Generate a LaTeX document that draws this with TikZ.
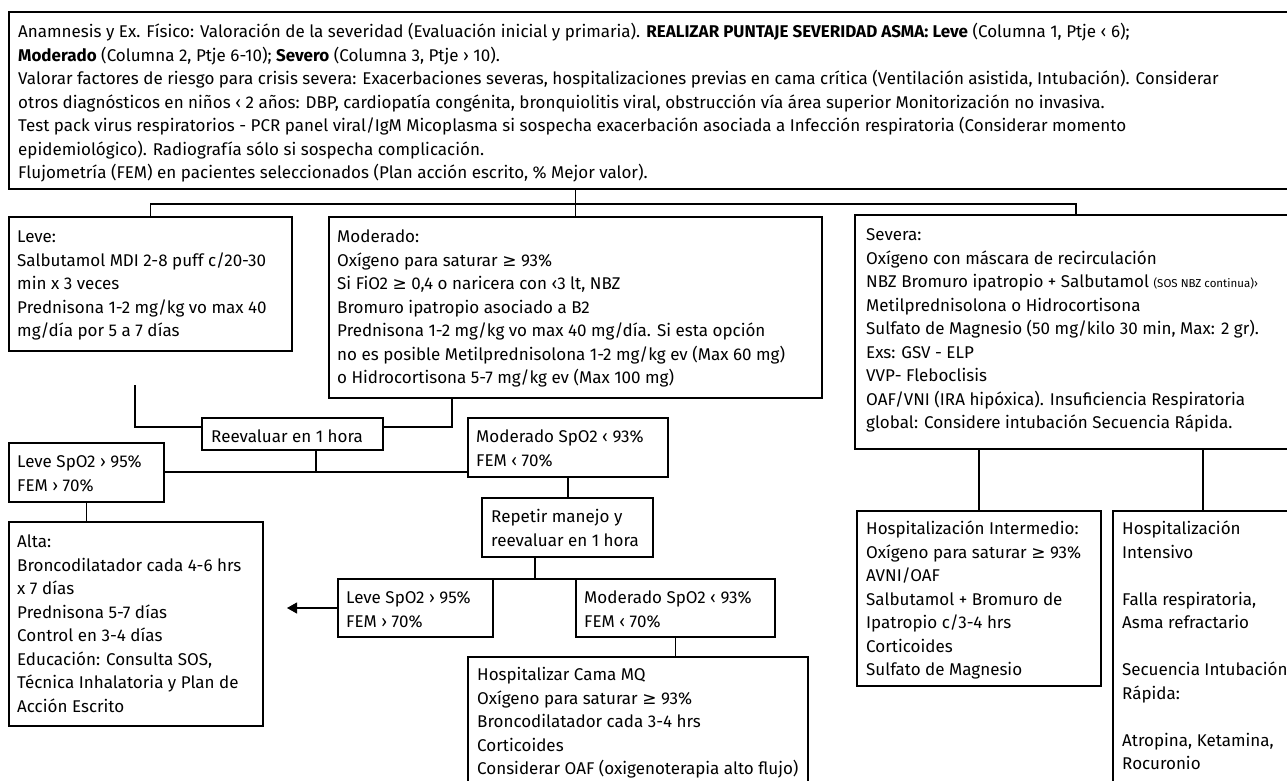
\documentclass[tikz,border=0pt]{standalone}
\usepackage{fontspec}
\setmainfont{Fira Sans}
\newfontfamily\symfam{DejaVu Sans}
\usetikzlibrary{arrows.meta}
\newcommand{\gesign}{{\symfam ≥}}
\begin{document}
\begin{tikzpicture}[x=1pt,y=-1pt,
  bx/.style={draw, line width=1.1pt, rectangle, anchor=north west, inner sep=0pt, outer sep=0pt},
  tx/.style={anchor=north west, inner sep=0pt, align=left, font=\fontsize{17}{23.5}\selectfont},
  ln/.style={line width=1.1pt},
  tip/.style={-{Triangle[length=10pt,width=11pt]}}
]
\useasboundingbox (0,0) rectangle (1287,780);
\clip (0,0) rectangle (1287,780);

% boxes
\node[bx, minimum width=1300pt, minimum height=177pt] (top) at (9,12) {};
\node[bx, minimum width=283pt, minimum height=134pt] (leve) at (9,217) {};
\node[bx, minimum width=493pt, minimum height=181pt] (mod) at (329,217) {};
\node[bx, minimum width=450pt, minimum height=234pt] (sev) at (855,215) {};
\node[bx, minimum width=181pt, minimum height=32pt] (reev) at (202,418) {};
\node[bx, minimum width=155pt, minimum height=59pt] (leveA) at (9,443) {};
\node[bx, minimum width=200pt, minimum height=59pt] (modA) at (468,418) {};
\node[bx, minimum width=171pt, minimum height=59pt] (rep) at (482,498) {};
\node[bx, minimum width=254pt, minimum height=204pt] (alta) at (9,522) {};
\node[bx, minimum width=155pt, minimum height=58pt] (leveB) at (338,579) {};
\node[bx, minimum width=199pt, minimum height=58pt] (modB) at (576,579) {};
\node[bx, minimum width=340pt, minimum height=160pt] (hmq) at (468,657) {};
\node[bx, minimum width=244pt, minimum height=175pt] (hint) at (857,511) {};
\node[bx, minimum width=200pt, minimum height=300pt] (hicu) at (1113,511) {};

% texts
\node[tx] (topT) at ([shift={(9,9)}]top.north west) {\strut Anamnesis y Ex. Físico: Valoración de la severidad (Evaluación inicial y primaria). \textbf{REALIZAR PUNTAJE SEVERIDAD ASMA: Leve} (Columna 1, Ptje ‹ 6);\\
\textbf{Moderado} (Columna 2, Ptje 6-10); \textbf{Severo} (Columna 3, Ptje › 10).\\
Valorar factores de riesgo para crisis severa: Exacerbaciones severas, hospitalizaciones previas en cama crítica (Ventilación asistida, Intubación). Considerar\\
otros diagnósticos en niños ‹ 2 años: DBP, cardiopatía congénita, bronquiolitis viral, obstrucción vía área superior Monitorización no invasiva.\\
Test pack virus respiratorios - PCR panel viral/IgM Micoplasma si sospecha exacerbación asociada a Infección respiratoria (Considerar momento\\
epidemiológico). Radiografía sólo si sospecha complicación.\\
Flujometría (FEM) en pacientes seleccionados (Plan acción escrito, \% Mejor valor).};

\node[tx] (leveT) at ([shift={(8,9)}]leve.north west) {\strut Leve:\\
Salbutamol MDI 2-8 puff c/20-30\\
min x 3 veces\\
Prednisona 1-2 mg/kg vo max 40\\
mg/día por 5 a 7 días};

\node[tx] (modT) at ([shift={(8,9)}]mod.north west) {\strut Moderado:\\
Oxígeno para saturar \gesign{} 93\%\\
Si FiO2 \gesign{} 0,4 o naricera con ‹3 lt, NBZ\\
Bromuro ipatropio asociado a B2\\
Prednisona 1-2 mg/kg vo max 40 mg/día. Si esta opción\\
no es posible Metilprednisolona 1-2 mg/kg ev (Max 60 mg)\\
o Hidrocortisona 5-7 mg/kg ev (Max 100 mg)};

\node[tx] (sevT) at ([shift={(11,9)}]sev.north west) {\strut Severa:\\
Oxígeno con máscara de recirculación\\
NBZ Bromuro ipatropio + Salbutamol {\fontsize{11.5}{23.5}\selectfont (SOS NBZ continua)›}\\
Metilprednisolona o Hidrocortisona\\
Sulfato de Magnesio (50 mg/kilo 30 min, Max: 2 gr).\\
Exs: GSV - ELP\\
VVP- Fleboclisis\\
OAF/VNI (IRA hipóxica). Insuficiencia Respiratoria\\
global: Considere intubación Secuencia Rápida.};

\node[tx] (reevT) at ([shift={(9,8)}]reev.north west) {\strut Reevaluar en 1 hora};
\node[tx] (leveAT) at ([shift={(8,8)}]leveA.north west) {\strut Leve SpO2 › 95\%\\FEM › 70\%};
\node[tx] (modAT) at ([shift={(8,8)}]modA.north west) {\strut Moderado SpO2 ‹ 93\%\\FEM ‹ 70\%};
\node[tx] (repT) at ([shift={(9,8)}]rep.north west) {\strut Repetir manejo y\\reevaluar en 1 hora};
\node[tx] (altaT) at ([shift={(8,9)}]alta.north west) {\strut Alta:\\
Broncodilatador cada 4-6 hrs\\
x 7 días\\
Prednisona 5-7 días\\
Control en 3-4 días\\
Educación: Consulta SOS,\\
Técnica Inhalatoria y Plan de\\
Acción Escrito};
\node[tx] (leveBT) at ([shift={(8,8)}]leveB.north west) {\strut Leve SpO2 › 95\%\\FEM › 70\%};
\node[tx] (modBT) at ([shift={(8,8)}]modB.north west) {\strut Moderado SpO2 ‹ 93\%\\FEM ‹ 70\%};
\node[tx] (hmqT) at ([shift={(9,7)}]hmq.north west) {\strut Hospitalizar Cama MQ\\
Oxígeno para saturar \gesign{} 93\%\\
Broncodilatador cada 3-4 hrs\\
Corticoides\\
Considerar OAF (oxigenoterapia alto flujo)};
\node[tx] (hintT) at ([shift={(9,7)}]hint.north west) {\strut Hospitalización Intermedio:\\
Oxígeno para saturar \gesign{} 93\%\\
AVNI/OAF\\
Salbutamol + Bromuro de\\
Ipatropio c/3-4 hrs\\
Corticoides\\
Sulfato de Magnesio};
\node[tx] (hicuT) at ([shift={(9,7)}]hicu.north west) {\strut Hospitalización\\
Intensivo\\[23.5pt]
Falla respiratoria,\\
Asma refractario\\[23.5pt]
Secuencia Intubación\\
Rápida:\\[23.5pt]
Atropina, Ketamina,\\
Rocuronio};

% connector points
\coordinate (jR) at (1076,204);
\coordinate (fl) at (135,385);
\coordinate (mc) at (452,427);
\coordinate (rb) at (316,472);
\coordinate (rb2) at (535,579);
\coordinate (ar) at (287,608);
\coordinate (ic) at (1203,480);

% connectors
\draw[ln] (top.south -| mod.north) -- (mod.north);
\draw[ln] (leve.north) |- (jR) -- (jR |- sev.north);
\draw[ln] (fl) |- (reev.north west |- mc);
\draw[ln] (mc |- mod.south) -- (mc) -- (reev.north east |- mc);
\draw[ln] (rb |- reev.south) -- (rb);
\draw[ln] (rb -| leveA.east) -- (rb -| modA.west);
\draw[ln] (leveA.south) -- (leveA.south |- alta.north);
\draw[ln] (modA.south) -- (modA.south |- rep.north);
\draw[ln] (rb2 |- rep.south) -- (rb2);
\draw[ln] (leveB.north east) -- (modB.north west);
\draw[ln, tip] (leveB.west) -- (ar);
\draw[ln] (modB.south) -- (modB.south |- hmq.north);
\draw[ln] (hint.north |- sev.south) -- (hint.north);
\draw[ln] (ic |- sev.south) -- (ic |- hicu.north);
\end{tikzpicture}
\end{document}
